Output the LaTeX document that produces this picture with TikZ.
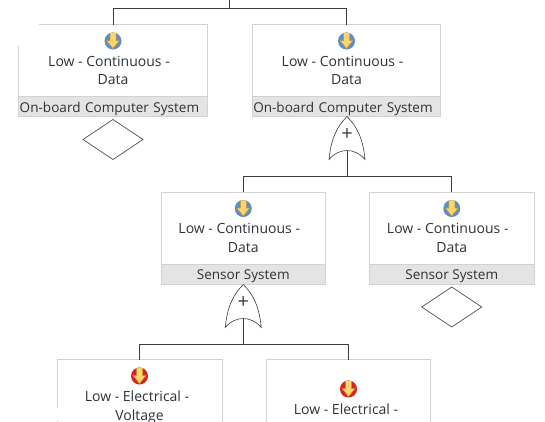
\documentclass[tikz,border=0pt]{standalone}
\usepackage{fontspec}
\setmainfont{Open Sans}
\usetikzlibrary{positioning,shapes.geometric}
\definecolor{framegray}{HTML}{D2D2D2}
\definecolor{footgray}{HTML}{E4E4E4}
\definecolor{linkgray}{HTML}{3C3C3C}
\definecolor{textgray}{HTML}{2E3238}
\definecolor{iconblue}{HTML}{5C8FC8}
\definecolor{iconred}{HTML}{D92222}
\definecolor{arrowyellow}{HTML}{FBD56E}
\definecolor{arrowedge}{HTML}{C9952F}
\tikzset{
  hazbox/.style={draw=framegray, fill=white, line width=0.9pt, outer sep=0pt, minimum height=92pt},
  hazfoot/.style={draw=framegray, fill=footgray, line width=0.9pt, outer sep=0pt, inner sep=1pt, minimum height=20pt, text height=12pt, text depth=1pt, text=textgray, font=\fontsize{13.55}{16}\selectfont},
  hazicon/.style={circle, fill=#1, minimum size=17pt, inner sep=0pt, outer sep=0pt,
    path picture={\fill[arrowyellow, draw=arrowedge, line width=0.5pt, shift={(path picture bounding box.center)}]
      (-3,-8.5) -- (3,-8.5) -- (3,-0.5) -- (6.5,-0.5) -- (0,7.5) -- (-6.5,-0.5) -- (-3,-0.5) -- cycle;}},
  hazlabel/.style={align=center, inner sep=0pt, text=textgray, font=\fontsize{14}{18.5}\selectfont},
  nogate/.style={diamond, draw=linkgray, line width=0.6pt, aspect=1.5, minimum width=60pt, minimum height=40pt, inner sep=0pt, outer sep=0pt},
  link/.style={draw=linkgray, line width=0.9pt},
  orgate/.pic={
    \draw[linkgray, line width=0.6pt, fill=white] (0,0) .. controls (-10,10) and (-16,22) .. (-18,43)
      .. controls (-8,31) and (8,31) .. (18,43) .. controls (16,22) and (10,10) .. (0,0) -- cycle;
    \node[text=linkgray, font=\fontsize{20}{20}\selectfont, inner sep=0pt] (-plus) at (0,18.5) {+};
    \coordinate (-notch) at (0,34);
  }
}
\begin{document}
\begin{tikzpicture}[x=1pt, y=-1pt]
        \clip[use as bounding box] (0,0) rectangle (545,421);
        % on-board computer row
        \node[hazbox, minimum width=188.5pt] (board1) at (113,70.5) {};
        \node[hazbox, minimum width=188.5pt, right=45pt of board1] (board2) {};
        \node[hazfoot, minimum width=188.5pt, text width=186.5pt, align=left, above=0pt of board1.south] (foot1) {On-board Computer System};
        \node[hazfoot, minimum width=188.5pt, text width=186.5pt, align=left, above=0pt of board2.south] (foot2) {On-board Computer System};
        \fill[white] (17,23) rectangle (38.5,46);
        \node[hazicon=iconblue, below=8pt of board1.north] (icon1) {};
        \node[hazicon=iconblue, below=8pt of board2.north] (icon2) {};
        \node[hazlabel, below=6.5pt of icon1] (text1) {Low - Continuous -\hspace*{8pt}\\Data};
        \node[hazlabel, below=6.5pt of icon2] (text2) {Low - Continuous -\hspace*{8pt}\\Data};
        \node[nogate, below=3pt of foot1] (undev1) {};
        % sensor row
        \node[hazbox, minimum width=163.5pt] (sense1) at (243.25,238) {};
        \node[hazbox, minimum width=164.5pt, right=44.5pt of sense1] (sense2) {};
        \node[hazfoot, minimum width=163.5pt, above=0pt of sense1.south] (foot3) {Sensor System};
        \node[hazfoot, minimum width=164.5pt, above=0pt of sense2.south] (foot4) {Sensor System};
        \node[hazicon=iconblue, below=8pt of sense1.north] (icon3) {};
        \node[hazicon=iconblue, below=8pt of sense2.north] (icon4) {};
        \node[hazlabel, below=6.5pt of icon3] (text3) {Low - Continuous -\hspace*{8pt}\\Data};
        \node[hazlabel, below=6.5pt of icon4] (text4) {Low - Continuous -\hspace*{8pt}\\Data};
        \node[nogate, below=3pt of foot4] (undev2) {};
        % electrical row
        \node[hazbox, minimum width=165pt] (elec1) at (139.5,405.5) {};
        \node[hazbox, minimum width=164pt, right=44.5pt of elec1] (elec2) {};
        \fill[white] (54,408) rectangle (58.5,421);
        \node[hazicon=iconred, below=8pt of elec1.north] (icon5) {};
        \node[hazicon=iconred, below=21pt of elec2.north] (icon6) {};
        \node[hazlabel, below=6.5pt of icon5] (text5) {Low - Electrical -\hspace*{5pt}\\Voltage};
        \node[hazlabel, below=6.5pt of icon6] (text6) {Low - Electrical -\hspace*{5pt}};
        % gates and links
        \pic (gate1) at (347,116.5) {orgate};
        \pic (gate2) at (243.25,284.5) {orgate};
        \coordinate (top) at (229.5,0);
        \coordinate (split0) at (229.5,8.5);
        \coordinate (split1) at (347,176.5);
        \coordinate (split2) at (243.25,344);
        \draw[link] (top) -- (split0);
        \draw[link] (split0) -| (board1.north);
        \draw[link] (split0) -| (board2.north);
        \draw[link] (gate1-notch) -- (split1);
        \draw[link] (split1) -| (sense1.north);
        \draw[link] (split1) -| (sense2.north);
        \draw[link] (gate2-notch) -- (split2);
        \draw[link] (split2) -| (elec1.north);
        \draw[link] (split2) -| (elec2.north);
    \end{tikzpicture}
\end{document}
